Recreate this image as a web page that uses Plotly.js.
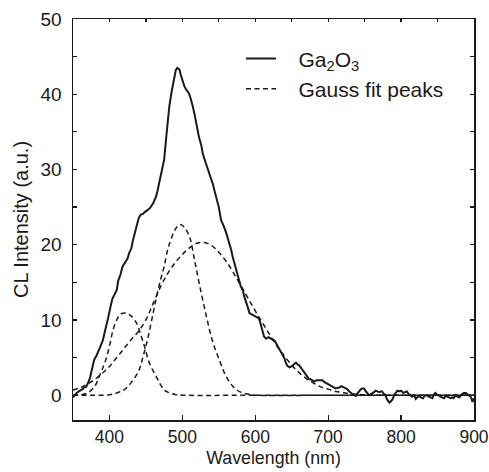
<!DOCTYPE html>
<html>
<head>
<meta charset="utf-8">
<script src="https://cdn.plot.ly/plotly-3.0.1.min.js"></script>
<style>html,body{margin:0;padding:0;background:#fff;}#chart{width:489px;height:472px;}</style>
</head>
<body>
<div id="chart"></div>
<script>
// Measured CL spectrum of Ga2O3
const wavelength = [350,353,355,358,360,363,365,368,370,373,375,377,379,382,385,388,391,393,395,398,400,402,404,407,410,412,415,418,420,422,425,427,430,432,435,437,440,443,446,448,450,452,455,458,460,462,464,466,468,471,473,475,478,480,482,485,487,489,491,493,494,496,498,500,503,506,508,510,512,514,517,519,521,523,526,528,531,533,535,537,540,542,544,546,548,550,553,555,557,560,562,565,567,569,571,574,576,578,580,583,585,588,590,592,594,596,598,600,603,605,607,609,612,615,618,620,622,624,626,628,631,633,635,638,640,642,644,647,649,651,654,656,658,660,663,665,667,670,672,674,676,679,681,684,686,689,692,694,696,699,701,703,705,708,710,713,715,718,720,722,724,726,729,731,734,736,738,740,742,745,747,749,751,754,756,758,760,763,765,767,770,772,774,776,778,781,784,786,788,791,793,795,798,800,803,806,808,810,813,815,818,820,822,825,827,830,832,835,838,840,843,845,847,850,852,854,856,859,861,863,865,868,870,872,875,877,880,883,886,889,891,893,896,898,900];
const intensity = [-0.3,0.1,0.3,0.5,0.6,0.8,1.0,1.1,1.5,2.2,3.0,3.8,4.7,5.2,6.0,6.6,7.3,8.0,9.0,10.2,11.3,12.0,12.8,13.4,14.0,15.2,16.0,17.1,17.4,17.8,18.2,18.9,19.5,20.5,21.5,22.4,23.5,24.0,24.1,24.3,24.5,24.6,24.8,25.2,25.5,26.0,26.4,27.2,28.2,29.8,30.5,31.3,34.4,36.5,38.3,40.2,41.4,42.5,43.2,43.5,43.4,43.3,42.5,41.9,41.0,40.5,40.3,39.9,39.3,38.5,37.2,36.1,35.2,34.2,33.2,32.1,31.2,30.6,30.1,29.5,28.8,28.0,27.2,26.4,25.9,25.0,23.3,22.9,22.4,21.6,21.0,20.1,19.3,18.4,17.6,16.5,15.7,15.2,14.5,13.9,13.1,12.3,11.6,10.9,10.8,10.7,10.6,10.5,10.3,10.2,9.6,9.0,7.8,7.5,7.7,7.6,7.5,7.4,7.3,7.0,6.5,6.2,5.8,5.3,4.9,4.3,3.9,3.7,3.8,3.9,4.2,4.3,4.1,4.0,3.6,3.3,3.0,2.6,2.3,2.1,2.1,1.9,1.8,2.0,2.0,1.9,2.0,1.8,1.7,1.5,1.4,1.3,1.2,1.0,0.9,1.0,1.0,1.2,1.1,1.0,0.9,0.8,0.5,0.3,0.1,0.0,-0.1,0.2,0.5,0.8,0.9,0.9,0.6,0.3,0.0,0.1,0.2,0.4,0.6,0.5,0.4,0.5,0.5,0.2,0.1,-0.6,-1.0,-0.8,-0.6,0.1,0.4,0.6,0.5,0.6,0.3,0.4,0.5,0.2,-0.1,-0.2,0.0,-0.5,-0.3,-0.1,-0.3,-0.4,-0.1,0.0,-0.2,-0.3,-0.4,0.1,0.3,0.0,0.0,-0.2,-0.3,-0.4,-0.1,-0.2,-0.3,-0.4,-0.3,-0.4,0.0,-0.2,-0.3,0.1,0.3,0.3,0.1,0.0,-0.3,-0.9,-0.4];

// Gauss fit peak 1 (~425 nm)
const peak1X = [350,360,370,380,386,390,395,400,405,411,416,423,430,437,443,448,455,464,470,475,480,490,500,600,700,800,900];
const peak1Y = [0,0.05,0.3,1.2,2.5,3.4,4.7,6.5,8.7,10.2,10.8,10.9,10.5,9.6,8.0,6.5,4.2,2.5,1.4,0.7,0.4,0.1,0,0,0,0,0];

// Gauss fit peak 2 (~497 nm)
const peak2X = [350,380,400,410,420,430,440,446,452,458,464,470,475,480,484,490,497,503,510,516,523,532,541,551,560,570,580,590,600,700,800,900];
const peak2Y = [0,0,0.05,0.3,0.7,1.7,3.2,5.1,7.3,10.0,12.8,15.3,17.1,19.4,20.6,22.0,22.7,22.3,21.0,18.3,14.9,10.9,7.3,4.6,2.5,1.1,0.4,0.15,0,0,0,0];

// Gauss fit peak 3 (~525 nm)
const peak3X = [350,360,370,380,390,400,410,420,430,440,450,460,470,480,490,500,510,520,530,540,550,560,570,580,590,600,610,620,630,640,650,660,670,680,690,700,710,720,730,740,750,760,800,900];
const peak3Y = [0.7,1.0,1.5,2.1,2.9,3.8,5.0,6.2,7.4,8.5,10.0,12.2,14.4,16.2,17.6,18.7,19.6,20.2,20.3,19.9,19.0,17.8,16.3,14.6,12.9,11.2,9.6,8.0,6.5,5.2,4.0,3.0,2.2,1.6,1.1,0.8,0.5,0.35,0.2,0.1,0.05,0,0,0];

const xTickVals = [400,500,600,700,800,900];
const xTickLabels = ['400','500','600','700','800','900'];
const yTickVals = [0,10,20,30,40,50];

const ink = '#1a1a1a';
const dashed = {color: ink, width: 1.5, dash: '5px,3.5px', shape: 'spline'};
const fam = 'Liberation Sans, Arial, Helvetica, sans-serif';

const traces = [
  {x: wavelength, y: intensity, mode: 'lines', name: '\u00a0\u00a0\u00a0Ga<sub>2</sub>O<sub>3</sub>',
   line: {color: ink, width: 2}},
  {x: peak1X, y: peak1Y, mode: 'lines', name: '\u00a0\u00a0\u00a0Gauss fit peaks', line: dashed, legendgroup: 'g'},
  {x: peak2X, y: peak2Y, mode: 'lines', name: 'Gauss fit peaks', line: dashed, legendgroup: 'g', showlegend: false},
  {x: peak3X, y: peak3Y, mode: 'lines', name: 'Gauss fit peaks', line: dashed, legendgroup: 'g', showlegend: false},
  {x: [350], y: [0], xaxis: 'x2', mode: 'markers', marker: {opacity: 0}, showlegend: false, hoverinfo: 'skip'}
];

const layout = {
  width: 489, height: 472,
  margin: {l: 73, r: 15, t: 19, b: 52},
  paper_bgcolor: '#fff', plot_bgcolor: '#fff',
  font: {family: fam, size: 16, color: ink},
  showlegend: true,
  legend: {x: 0.419, y: 0.952, xanchor: 'left', yanchor: 'top', bgcolor: 'rgba(0,0,0,0)',
           font: {family: fam, size: 21, color: ink}, tracegroupgap: 0},
  xaxis: {
    range: [350, 900], tickmode: 'array', tickvals: xTickVals, ticktext: xTickLabels,
    ticks: 'inside', ticklen: 5, tickwidth: 1.2, tickcolor: ink,
    showline: true, linecolor: ink, linewidth: 1.5, mirror: false, showgrid: false, zeroline: false,
    ticklabeloverflow: 'allow',
    tickfont: {family: fam, size: 17.5, color: ink},
    title: {text: 'Wavelength (nm)', font: {family: fam, size: 17.8, color: ink}, standoff: 6}
  },
  xaxis2: {
    range: [350, 900], overlaying: 'x', side: 'top', dtick: 50, tick0: 350, ticks: 'inside', ticklen: 3,
    tickwidth: 1.2, tickcolor: ink, showticklabels: false, showline: true, linecolor: ink, linewidth: 1.5,
    showgrid: false, zeroline: false
  },
  yaxis: {
    range: [-3.3, 50], tickvals: yTickVals, ticks: 'inside', ticklen: 4, tickwidth: 1.2, tickcolor: ink,
    minor: {dtick: 5, tick0: 0, ticks: 'inside', ticklen: 4, tickwidth: 1.2, tickcolor: ink, showgrid: false},
    showline: true, linecolor: ink, linewidth: 1.5, mirror: 'ticks', showgrid: false, zeroline: false,
    ticklabelstandoff: 6,
    tickfont: {family: fam, size: 19, color: ink},
    title: {text: 'CL Intensity (a.u.)', font: {family: fam, size: 20, color: ink}, standoff: 6}
  }
};

Plotly.newPlot('chart', traces, layout, {staticPlot: true, displayModeBar: false});
</script>
</body>
</html>
